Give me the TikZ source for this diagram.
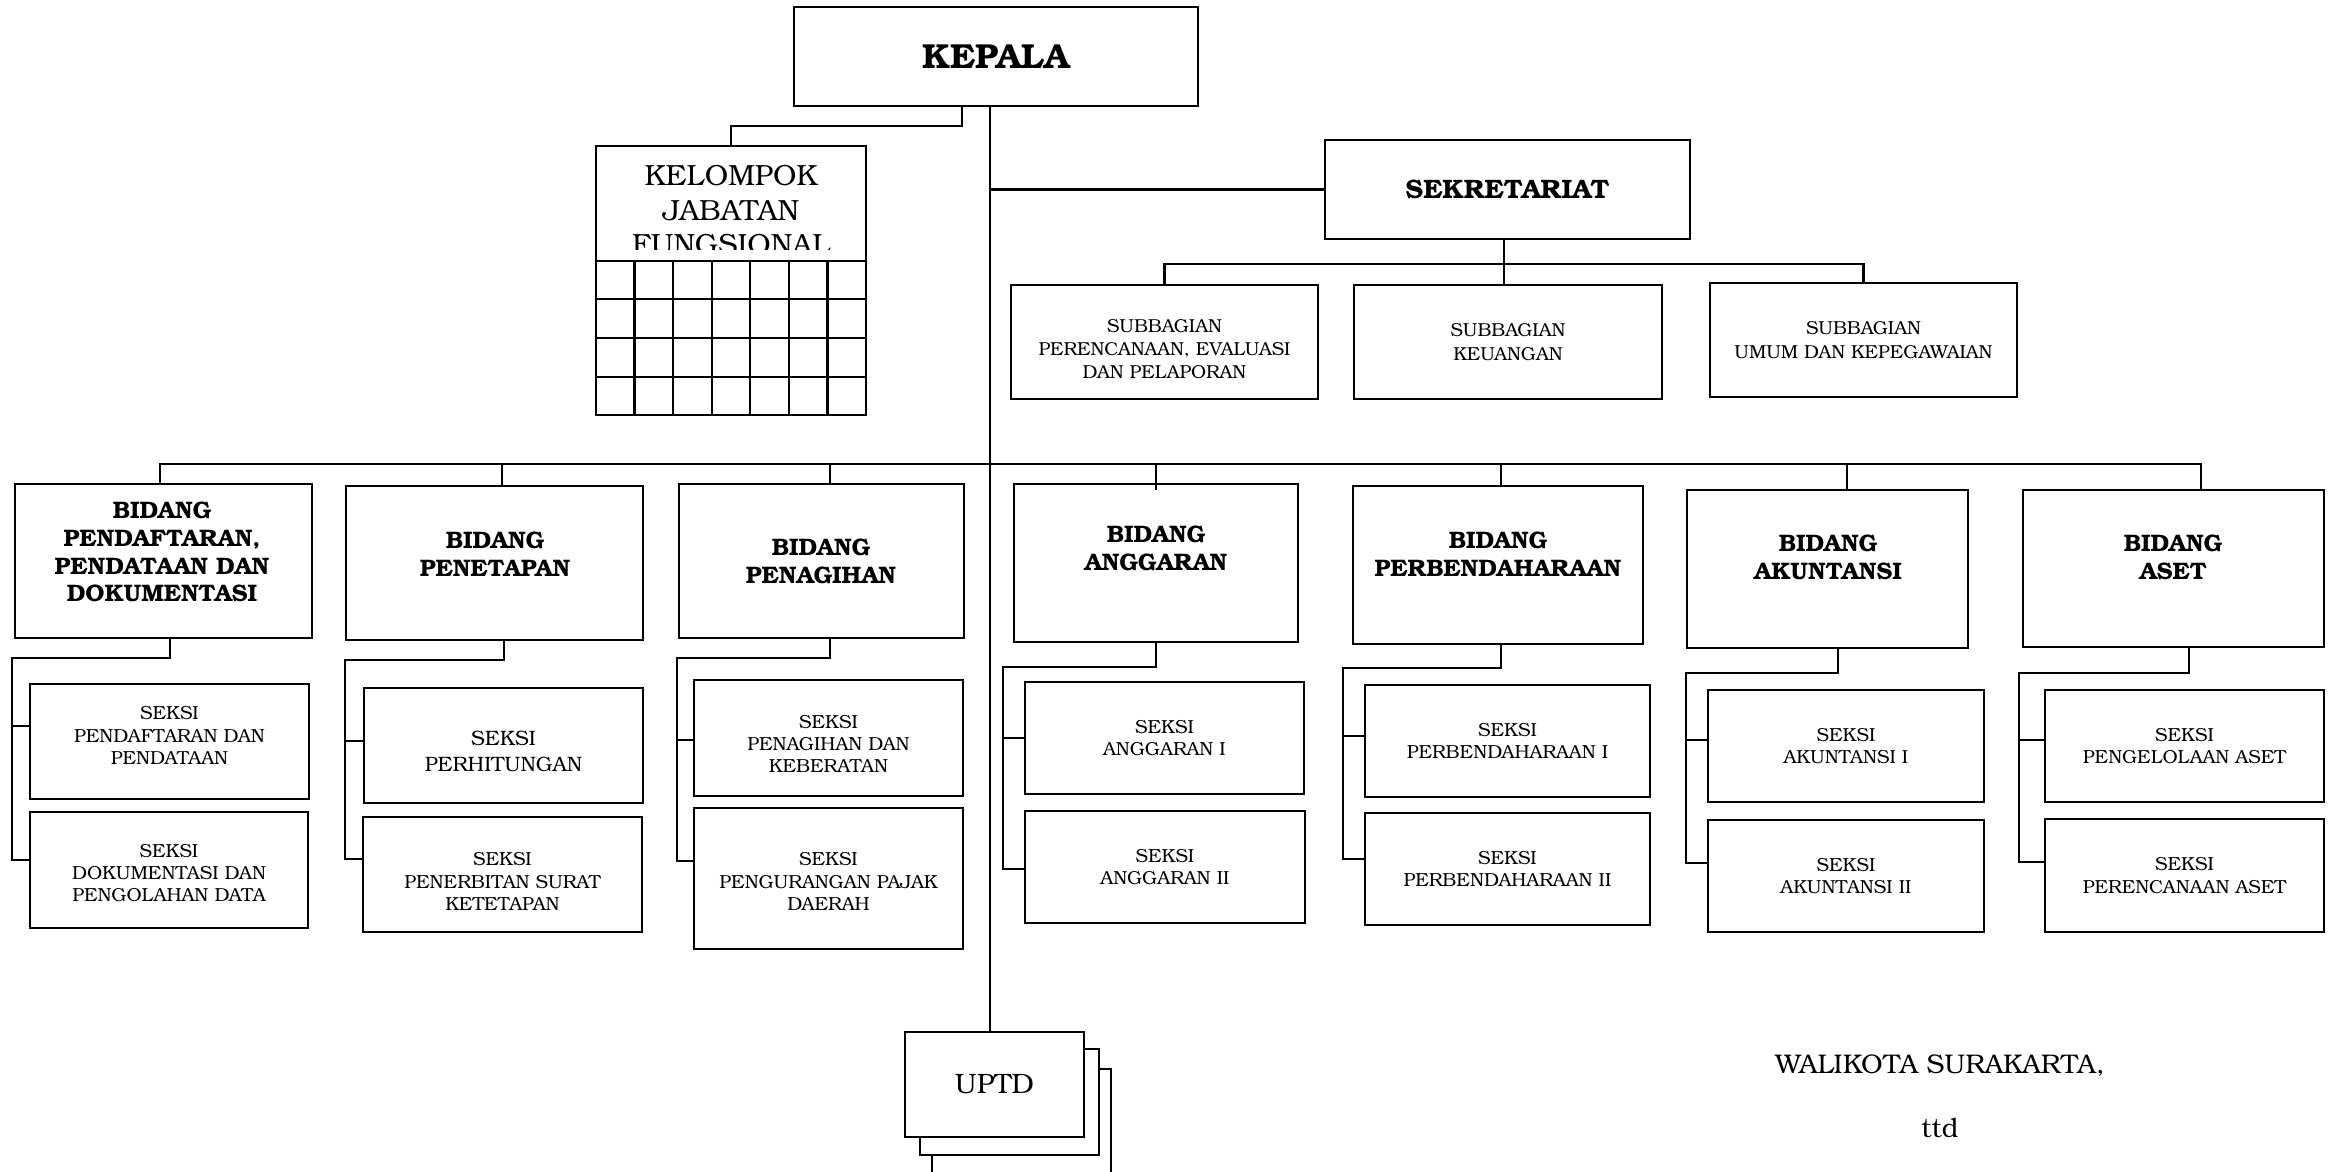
\documentclass[tikz,border=0pt]{standalone}
\usepackage{fontspec}
\setmainfont{TeX Gyre Bonum}

\tikzset{
  garis/.style={line width=0.8pt},
  kotak/.style={draw, line width=0.8pt, inner sep=0pt, fill=white},
  teks/.style={align=center, inner sep=0pt},
  kepala/.style={teks, font=\fontsize{12.5}{14}\selectfont\bfseries},
  sekre/.style={teks, font=\fontsize{9.6}{11}\selectfont\bfseries},
  subbag/.style={teks, font=\fontsize{6.75}{8.4}\selectfont},
  seksi/.style={teks, font=\fontsize{6.8}{8}\selectfont},
  seksibesar/.style={teks, font=\fontsize{7.5}{9.5}\selectfont},
  uptd/.style={teks, font=\fontsize{10.1}{12}\selectfont},
  bidteks/.style={teks, font=\fontsize{8.6}{10}\selectfont\bfseries},
  biasa/.style={teks, font=\fontsize{10.5}{12.4}\selectfont},
  ttdteks/.style={teks, font=\fontsize{9.7}{12}\selectfont}
}

% boks: [geser teks], gaya teks, nama, x1, y1, x2, y2, teks (koordinat dalam piksel)
\newcommand\boks[8][0]{
  \node[kotak, minimum width={(#6-#4)*0.36pt}, minimum height={(#7-#5)*0.36pt}]
    (#3) at ({(#4+#6)/2},{(#5+#7)/2}) {};
  \node[#2] (#3t) at ({(#4+#6)/2},{(#5+#7)/2+#1}) {#8};
}

% cabang: bidang, seksi atas, seksi bawah, x turun, y siku, x kiri, y atas, y bawah
\newcommand\cabang[8]{
  \coordinate (#1j) at (#6,#5);
  \draw[garis] (#1.south -| #4,0) |- (#1j) |- (#3.west |- 0,#8);
  \draw[garis] (#1j |- 0,#7) -- (#2.west |- 0,#7);
}

\begin{document}
\begin{tikzpicture}[x=0.36pt, y=-0.36pt]
\useasboundingbox (0,0) rectangle (2335,1172);
\clip (0,0) rectangle (2335,1172);

% pimpinan
\boks{kepala}{kepala}{794}{7}{1198}{106}{KEPALA}
\boks{sekre}{sekre}{1325}{140}{1690}{239}{SEKRETARIAT}

% kelompok jabatan fungsional
\boks{biasa}{kjf}{596}{146}{866}{415}{}
\begin{scope}
  \clip (596,146) rectangle (866,250);
  \node[biasa, anchor=north] (kjft) at (731,165) {KELOMPOK\\JABATAN\\FUNGSIONAL};
\end{scope}
\foreach \yy in {261,299,338,377} \draw[garis] (596,\yy) -- (866,\yy);
\foreach \i in {1,...,6} {
  \pgfmathsetmacro\xx{596+\i*38.57}
  \draw[garis] (\xx,261) -- (\xx,415);
}

% subbagian
\boks[7]{subbag}{sub1}{1011}{285}{1318}{399}{SUBBAGIAN\\PERENCANAAN, EVALUASI\\DAN PELAPORAN}
\boks{subbag}{sub2}{1354}{285}{1662}{399}{SUBBAGIAN\\KEUANGAN}
\boks{subbag}{sub3}{1710}{283}{2017}{397}{SUBBAGIAN\\UMUM DAN KEPEGAWAIAN}

% bidang
\boks{bidteks}{b1}{15}{484}{312}{638}{}
\boks{bidteks}{b2}{346}{486}{643}{640}{}
\boks{bidteks}{b3}{679}{484}{964}{638}{}
\boks{bidteks}{b4}{1014}{484}{1298}{642}{}
\boks{bidteks}{b5}{1353}{486}{1643}{644}{}
\boks{bidteks}{b6}{1687}{490}{1968}{648}{}
\boks{bidteks}{b7}{2023}{490}{2324}{647}{}
\node[bidteks] (b1n) at (162,552) {BIDANG\\PENDAFTARAN,\\PENDATAAN DAN\\DOKUMENTASI};
\node[bidteks] (b2n) at (495,554) {BIDANG\\PENETAPAN};
\node[bidteks] (b3n) at (821,561) {BIDANG\\PENAGIHAN};
\node[bidteks] (b4n) at (1156,548) {BIDANG\\ANGGARAN};
\node[bidteks] (b5n) at (1498,554) {BIDANG\\PERBENDAHARAAN};
\node[bidteks] (b6n) at (1828,557) {BIDANG\\AKUNTANSI};
\node[bidteks] (b7n) at (2173,557) {BIDANG\\ASET};

% seksi
\boks[-6]{seksi}{s1a}{30}{684}{309}{799}{SEKSI\\PENDAFTARAN DAN\\PENDATAAN}
\boks[3]{seksi}{s1b}{30}{812}{308}{928}{SEKSI\\DOKUMENTASI DAN\\PENGOLAHAN DATA}
\boks[6]{seksibesar}{s2a}{364}{688}{643}{803}{SEKSI\\PERHITUNGAN}
\boks[7]{seksi}{s2b}{363}{817}{642}{932}{SEKSI\\PENERBITAN SURAT\\KETETAPAN}
\boks[6]{seksi}{s3a}{694}{680}{963}{796}{SEKSI\\PENAGIHAN DAN\\KEBERATAN}
\boks[3]{seksi}{s3b}{694}{808}{963}{949}{SEKSI\\PENGURANGAN PAJAK\\DAERAH}
\boks{seksi}{s4a}{1025}{682}{1304}{794}{SEKSI\\ANGGARAN I}
\boks{seksi}{s4b}{1025}{811}{1305}{923}{SEKSI\\ANGGARAN II}
\boks{seksi}{s5a}{1365}{685}{1650}{797}{SEKSI\\PERBENDAHARAAN I}
\boks{seksi}{s5b}{1365}{813}{1650}{925}{SEKSI\\PERBENDAHARAAN II}
\boks{seksi}{s6a}{1708}{690}{1984}{802}{SEKSI\\AKUNTANSI I}
\boks{seksi}{s6b}{1708}{820}{1984}{932}{SEKSI\\AKUNTANSI II}
\boks{seksi}{s7a}{2045}{690}{2324}{802}{SEKSI\\PENGELOLAAN ASET}
\boks{seksi}{s7b}{2045}{819}{2324}{932}{SEKSI\\PERENCANAAN ASET}

% uptd
\boks{uptd}{uptd3}{932}{1069}{1111}{1190}{}
\boks{uptd}{uptd2}{920}{1049}{1099}{1155}{}
\boks{uptd}{uptd}{905}{1032}{1084}{1137}{UPTD}

% tanda tangan
\node[ttdteks, anchor=base] (walikota) at (1940,1073) {WALIKOTA SURAKARTA,};
\node[ttdteks, anchor=base] (ttd) at (1940,1137) {ttd};

% garis komando
\coordinate (tulang) at (990,464);
\draw[garis] (kepala.south -| tulang) -- (uptd.north -| tulang);
\coordinate (kjfsiku) at (962,126);
\draw[garis] (kepala.south -| kjfsiku) |- (kjfsiku) -| (kjf.north);
\draw[garis] (tulang |- sekre.west) -- (sekre.west);
\coordinate (subsiku) at (1504,264);
\draw[garis] (sekre.south -| subsiku) -- (sub2.north -| subsiku);
\draw[garis] (sub1.north) |- (subsiku) -| (sub3.north);
\draw[garis] (b1.north -| 160,0) |- (tulang) -| (b7.north -| 2201,0);
\foreach \bid/\x/\dd in {b2/502/0, b3/830/2, b4/1156/7, b5/1501/0, b6/1847/0}
  \draw[garis] (tulang -| \x,0) -- (\bid.north -| \x,0) -- ++(0,\dd);

\cabang{b1}{s1a}{s1b}{170}{658}{12}{726}{860}
\cabang{b2}{s2a}{s2b}{504}{660}{345}{741}{859}
\cabang{b3}{s3a}{s3b}{830}{658}{677}{740}{861}
\cabang{b4}{s4a}{s4b}{1156}{667}{1003}{738}{869}
\cabang{b5}{s5a}{s5b}{1501}{668}{1343}{736}{859}
\cabang{b6}{s6a}{s6b}{1838}{673}{1686}{740}{863}
\cabang{b7}{s7a}{s7b}{2189}{673}{2019}{740}{862}
\end{tikzpicture}
\end{document}
